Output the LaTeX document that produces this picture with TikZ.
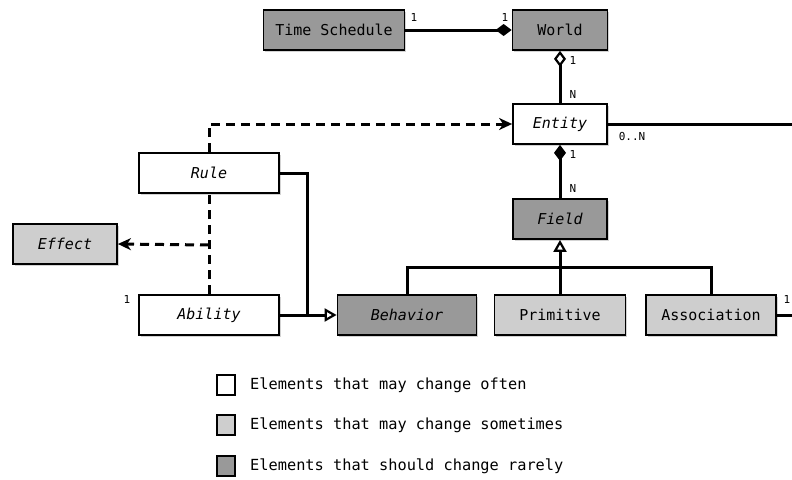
\documentclass[tikz,border=0pt]{standalone}
\usepackage{fontspec}
\setmonofont{DejaVu Sans Mono}
\usetikzlibrary{arrows.meta,shadows}
\definecolor{dark}{RGB}{153,153,153}
\definecolor{light}{RGB}{206,206,206}
\tikzset{
  box/.style={draw=black, line width=1.8pt, fill=white, minimum height=40pt, inner sep=0pt,
    font=\ttfamily\fontsize{15}{17}\selectfont,
    drop shadow={shadow xshift=1.5pt, shadow yshift=-1.5pt, opacity=0.35}},
  often/.style={box, fill=white},
  sometimes/.style={box, fill=light},
  rarely/.style={box, fill=dark},
  conn/.style={line width=3pt, draw=black},
  dep/.style={line width=3pt, draw=black, dash pattern=on 9pt off 6pt},
  mult/.style={font=\ttfamily\fontsize{11}{13}\selectfont, inner sep=0pt},
  legbox/.style={draw=black, line width=1.8pt, minimum width=18pt, minimum height=20pt, inner sep=0pt,
    drop shadow={shadow xshift=1pt, shadow yshift=-1pt, opacity=0.35}},
  legtext/.style={font=\ttfamily\fontsize{15.3}{17}\selectfont, anchor=west, inner sep=0pt},
  fdia/.tip={Diamond[length=16pt,width=12pt]},
  odia/.tip={Diamond[open,length=16pt,width=12pt,line width=2.2pt]},
  otri/.tip={Triangle[open,length=12pt,width=13pt,line width=2.2pt]},
  stl/.tip={Stealth[length=13pt,width=12pt,inset=4pt]}
}
\begin{document}
\begin{tikzpicture}[x=1pt,y=-1pt]
\useasboundingbox (0,0) rectangle (792,479);
% nodes
\node[rarely, minimum width=141pt] (ts) at (334,30) {Time Schedule};
\node[rarely, minimum width=95pt] (world) at (560,30) {World};
\node[often, minimum width=94pt] (entity) at (560,124) {\itshape Entity};
\node[rarely, minimum width=94pt] (field) at (560,219) {\itshape Field};
\node[often, minimum width=140pt] (rule) at (209,173) {\itshape Rule};
\node[sometimes, minimum width=104pt] (effect) at (65,244) {\itshape Effect};
\node[often, minimum width=140pt] (ability) at (209,315) {\itshape Ability};
\node[rarely, minimum width=139pt] (behavior) at (407,315) {\itshape Behavior};
\node[sometimes, minimum width=131pt] (primitive) at (560,315) {Primitive};
\node[sometimes, minimum width=130pt] (association) at (711,315) {Association};
% coordinates
\coordinate (entEnd) at (792,124);
\coordinate (assEnd) at (792,315);
\coordinate (bar) at (560,267);
\coordinate (join) at (307,315);
\coordinate (effJoin) at (209,245);
% connectors
\draw[conn, -{fdia}] (ts) -- (world);
\draw[conn, {odia}-] (world) -- (entity);
\draw[conn, {fdia}-] (entity) -- (field);
\draw[conn] (entity.east) -- (entEnd);
\draw[conn] (association.east) -- (assEnd);
\draw[conn, -{otri}] (primitive.north) -- (field.south);
\draw[conn] (behavior.north) |- (bar) -| (association.north);
\draw[conn] (rule.east) -| (join);
\draw[conn, -{otri}] (ability.east) -- (behavior.west);
\draw[dep] (ability.north) -- (rule.south);
\draw[dep, -{stl}] (rule.north) |- (entity.west);
\draw[dep, -{stl}] (effJoin) -- (effect.east);
% multiplicities
\node[mult] at (414,17) {1};
\node[mult] at (505,17) {1};
\node[mult] at (573,60) {1};
\node[mult] at (573,94) {N};
\node[mult] at (573,154) {1};
\node[mult] at (573,188) {N};
\node[mult] at (632,136) {0..N};
\node[mult] at (787,299) {1};
\node[mult] at (127,299) {1};
% legend
\node[legbox, fill=white] (l1) at (226,385) {};
\node[legbox, fill=light] (l2) at (226,425) {};
\node[legbox, fill=dark] (l3) at (226,466) {};
\node[legtext] (t1) at (250,385) {Elements that may change often};
\node[legtext] (t2) at (250,425) {Elements that may change sometimes};
\node[legtext] (t3) at (250,466) {Elements that should change rarely};
\end{tikzpicture}
\end{document}
